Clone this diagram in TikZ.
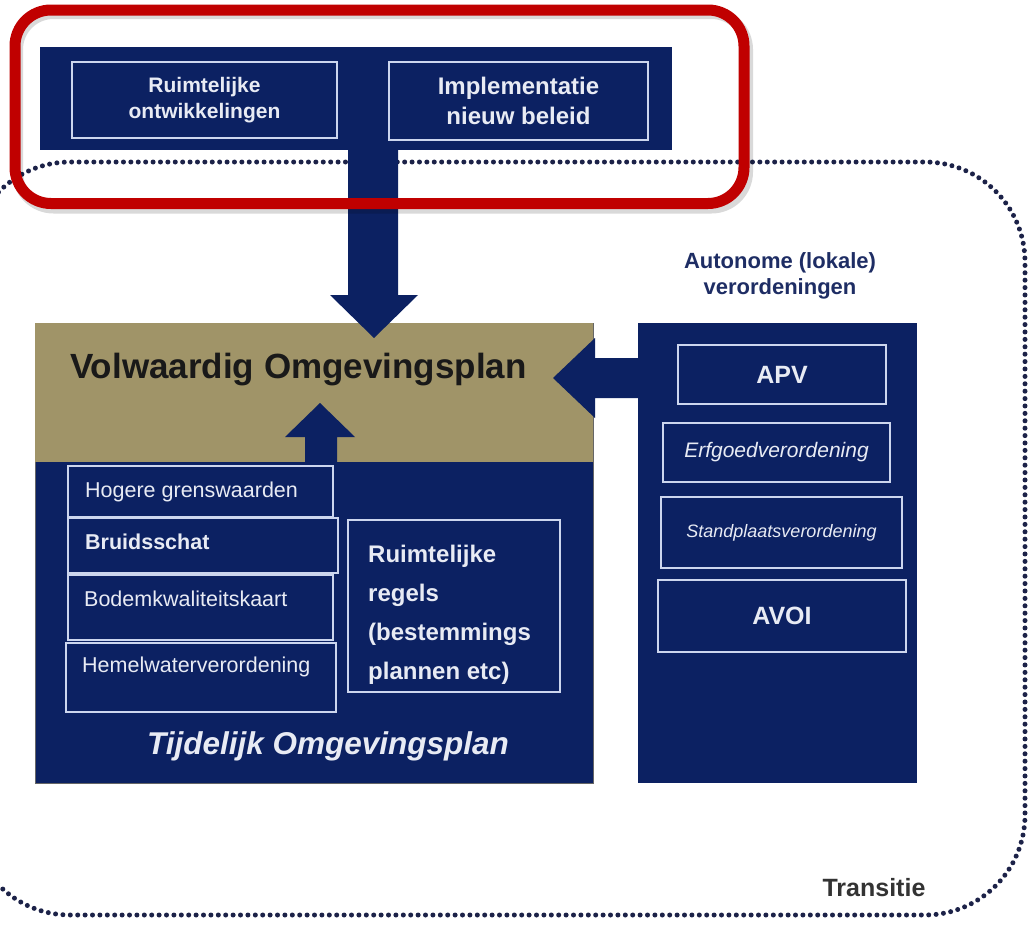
\documentclass[tikz,border=0pt]{standalone}
\usepackage{fontspec}
\setmainfont{Liberation Sans}
\usetikzlibrary{calc}
\definecolor{navy}{RGB}{12,33,98}
\definecolor{khaki}{RGB}{160,148,104}
\definecolor{lightb}{RGB}{205,214,238}
\definecolor{paletext}{RGB}{232,235,244}
\definecolor{redbox}{RGB}{192,0,0}
\definecolor{dotc}{RGB}{28,34,72}
\definecolor{headc}{RGB}{30,45,100}
\tikzset{
  panel/.style={fill=navy, draw=none, inner sep=0pt, outer sep=0pt},
  ibox/.style={draw=lightb, line width=1.6pt, fill=navy, inner sep=0pt, outer sep=0pt, text=paletext, align=center},
  lbl/.style={text=paletext, inner sep=0pt, anchor=base west, font=\fontsize{21.5}{24}\selectfont},
  blockarrow/.style={fill=navy, draw=none},
}
\begin{document}
\begin{tikzpicture}[x=1pt,y=-1pt]
\useasboundingbox (0,0) rectangle (1029,926);
\clip (0,0) rectangle (1029,926);
\fill[white] (0,0) rectangle (1029,926);

% Transitie dotted frame
\draw[dotc, line width=5pt, line cap=round, dash pattern=on 0pt off 7.4pt, rounded corners=100pt]
  (-30,162) rectangle (1025,915);
\node[font=\fontsize{25}{28}\selectfont\bfseries, text=black!80, inner sep=0pt, anchor=base] (trans) at (874,896) {Transitie};

% Top panel
\node[panel, minimum width=632pt, minimum height=103pt] (top) at (356,98.5) {};
\node[ibox, minimum width=265pt, minimum height=76pt, font=\fontsize{21}{26}\selectfont\bfseries] (ro) at (204.5,100) {Ruimtelijke\\ontwikkelingen};
\node[ibox, minimum width=259pt, minimum height=78pt, font=\fontsize{24}{30}\selectfont\bfseries] (nb) at (518.5,101) {Implementatie\\nieuw beleid};

% Main panel
\node[panel, draw=black!60, line width=0.8pt, minimum width=558pt, minimum height=460pt] (main) at (314,553) {};
\fill[khaki] ($(main.north west)+(0.4,0.4)$) rectangle (592.6,462);
\node[font=\fontsize{35}{40}\selectfont\bfseries, text=black!90, inner sep=0pt, anchor=base west] (vol) at (70,378) {Volwaardig Omgevingsplan};

% stacked boxes
\node[ibox, minimum width=265pt, minimum height=51pt] (hog) at (200.5,491.5) {};
\node[lbl] at ($(hog.north west)+(17,31)$) {Hogere grenswaarden};
\node[ibox, minimum width=270pt, minimum height=55pt] (bru) at (203,545.5) {};
\node[lbl, font=\fontsize{21.5}{24}\selectfont\bfseries] at ($(bru.north west)+(17,31)$) {Bruidsschat};
\node[ibox, minimum width=265pt, minimum height=65pt] (bod) at (200.5,607.5) {};
\node[lbl] at ($(bod.north west)+(16,31)$) {Bodemkwaliteitskaart};
\node[ibox, minimum width=270pt, minimum height=69pt] (hem) at (201,677.5) {};
\node[lbl] at ($(hem.north west)+(16,29)$) {Hemelwaterverordening};

\node[ibox, minimum width=212pt, minimum height=172pt] (rr) at (454,606) {};
\node[text=paletext, inner sep=0pt, anchor=base west, align=left,
      font=\fontsize{24}{39}\selectfont\bfseries] (rrt) at (368,679) {Ruimtelijke\\regels\\(bestemmings\\plannen etc)};

\node[font=\fontsize{31.5}{34}\selectfont\bfseries\itshape, text=paletext, inner sep=0pt, anchor=base] (tij) at (328,754) {Tijdelijk Omgevingsplan};

% Right panel
\node[font=\fontsize{22}{26}\selectfont\bfseries, text=headc, align=center, inner sep=0pt] (aut) at (780,276) {Autonome (lokale)\\verordeningen};
\node[panel, minimum width=279pt, minimum height=460pt] (right) at (777.5,553) {};
\node[ibox, minimum width=208pt, minimum height=59pt, font=\fontsize{25}{28}\selectfont\bfseries] (apv) at (782,374.5) {APV};
\node[ibox, minimum width=227pt, minimum height=59pt, font=\fontsize{21}{24}\selectfont\itshape] (erf) at (776.5,452.5) {\raisebox{-5pt}{Erfgoedverordening}};
\node[ibox, minimum width=241pt, minimum height=71pt, font=\fontsize{18}{21}\selectfont\itshape] (sta) at (781.5,532.5) {\raisebox{-2pt}{Standplaatsverordening}};
\node[ibox, minimum width=248pt, minimum height=72pt, font=\fontsize{25}{28}\selectfont\bfseries] (avo) at (782,616) {AVOI};

% Block arrows
\fill[blockarrow] ($(top.south)+(-8,0)$) -- ++(0,145) -- ++(-18,0) -- (374,338) -- (418,295) -- ++(-20,0) -- ($(top.south)+(42,0)$) -- cycle;
\fill[blockarrow] ($(right.west)+(0,-195)$) -- (595,358) -- (595,338) -- (553,378) -- (595,418) -- (595,398) -- ($(right.west)+(0,-155)$) -- cycle;
\fill[blockarrow] (305,462) -- (305,437) -- (285,437) -- (320,403) -- (355,437) -- (337,437) -- (337,462) -- cycle;

% Red highlight
\draw[black, opacity=0.15, line width=11pt, rounded corners=36pt] (17.5,13.5) rectangle (747.5,208);
\draw[redbox, line width=11pt, rounded corners=36pt] (15,10) rectangle (744,203.5);
\end{tikzpicture}
\end{document}
